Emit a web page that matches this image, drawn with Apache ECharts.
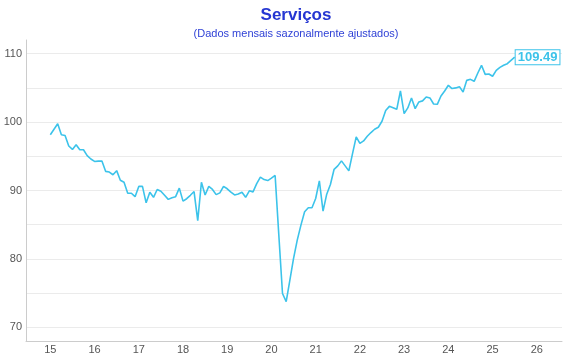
<!DOCTYPE html>
<html><head><meta charset="utf-8">
<script src="https://cdn.jsdelivr.net/npm/echarts@6/dist/echarts.min.js"></script>
<style>html,body{margin:0;padding:0;background:#fff}#c{width:570px;height:360px}</style>
</head><body><div id="c"></div><script>
const startYear = 15; // Jan 2015, monthly data
const values = [
  98.15, 98.95, 99.75, 98.15, 98.05, 96.5, 96.0, 96.7, 95.95, 95.95, 95.1, 94.6,
  94.25, 94.3, 94.3, 92.8, 92.7, 92.3, 92.9, 91.5, 91.2, 89.6, 89.6, 89.1,
  90.6, 90.6, 88.2, 89.75, 89.0, 90.15, 89.9, 89.3, 88.7, 88.95, 89.1, 90.35,
  88.45, 88.8, 89.3, 89.85, 85.6, 91.2, 89.35, 90.6, 90.15, 89.4, 89.65, 90.6,
  90.25, 89.75, 89.35, 89.5, 89.75, 89.0, 89.95, 89.8, 91.0, 91.95, 91.6, 91.45,
  91.8, 92.2, 83.5, 74.95, 73.75, 76.9, 80.07, 82.75, 84.94, 86.9, 87.47, 87.47,
  88.83, 91.4, 86.98, 89.46, 90.88, 93.1, 93.6, 94.33, 93.6, 92.87, 95.4, 97.83,
  96.9, 97.25, 97.93, 98.47, 98.95, 99.25, 100.12, 101.68, 102.3, 102.1, 101.87, 104.55,
  101.24, 102.07, 103.53, 101.97, 102.94, 103.1, 103.67, 103.53, 102.65, 102.6, 103.82, 104.55,
  105.38, 104.9, 105.0, 105.18, 104.4, 106.1, 106.25, 105.96, 107.18, 108.3, 106.98, 107.03,
  106.7, 107.57, 108.0, 108.3, 108.54, 109.03, 109.49
];
const xTickLabels = [15, 16, 17, 18, 19, 20, 21, 22, 23, 24, 25, 26];
const yTickLabels = [70, 80, 90, 100, 110];
const yGridLines = [70, 75, 80, 85, 90, 95, 100, 105, 110];

const seriesData = values.map((v, i) => [startYear + i / 12, v]);
const font = 'Liberation Sans, Arial, Helvetica, sans-serif';

const chart = echarts.init(document.getElementById('c'), null, {renderer: 'canvas'});
chart.setOption({
  animation: false,
  backgroundColor: '#fff',
  textStyle: {fontFamily: font},
  title: {
    text: 'Serviços',
    subtext: '(Dados mensais sazonalmente ajustados)',
    left: 291, textAlign: 'center', top: 2, itemGap: 4,
    textStyle: {color: '#2536d2', fontSize: 17, fontWeight: 'bold', fontFamily: font},
    subtextStyle: {color: '#3042d6', fontSize: 11, fontFamily: font}
  },
  grid: {left: 26, right: 8, top: 40, bottom: 19, containLabel: false},
  xAxis: {
    type: 'value', min: 14.45, max: 26.57,
    axisLine: {show: true, lineStyle: {color: '#cccccc', width: 1}},
    axisTick: {show: false, customValues: xTickLabels},
    splitLine: {show: false},
    axisLabel: {customValues: xTickLabels, color: '#555', fontSize: 11, margin: 3,
      formatter: v => String(Math.round(v))}
  },
  yAxis: {
    type: 'value', min: 68, max: 112,
    axisLine: {show: true, lineStyle: {color: '#cccccc', width: 1}},
    axisTick: {show: false, customValues: yGridLines},
    splitLine: {show: true, lineStyle: {color: '#ebebeb', width: 1}},
    axisLabel: {customValues: yTickLabels, color: '#555', fontSize: 11, margin: 4}
  },
  series: [{
    type: 'line',
    data: seriesData,
    showSymbol: false,
    lineStyle: {color: '#3cc3ea', width: 1.6},
    itemStyle: {color: '#3cc3ea'},
    endLabel: {
      show: true,
      formatter: p => p.value[1].toFixed(2),
      color: '#3cc3ea', fontSize: 13, fontWeight: 'bold', fontFamily: font,
      borderColor: '#3cc3ea', borderWidth: 1, backgroundColor: '#fff',
      padding: [1, 2, 0, 2], distance: 1
    }
  }]
});
</script></body></html>
